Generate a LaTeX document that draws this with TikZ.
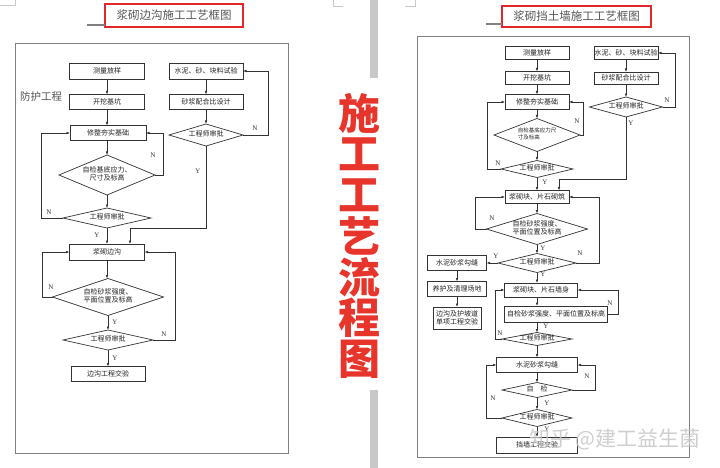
\documentclass[tikz,border=0pt]{standalone}
\usepackage{fontspec}
\setmainfont{Noto Sans CJK SC}
\newfontfamily\lat{Liberation Serif}
\newfontfamily\cjkb{Noto Sans CJK SC}
\usetikzlibrary{shapes.geometric,arrows.meta}
\definecolor{ln}{HTML}{333333}
\definecolor{txt}{HTML}{222222}
\definecolor{ttl}{HTML}{555555}
\definecolor{frm}{HTML}{808080}
\definecolor{redbox}{HTML}{E0282A}
\definecolor{bigred}{HTML}{E8352B}
\definecolor{bar}{HTML}{C8C8C8}
\newcommand{\dt}[1]{\makebox[0pt]{\begin{tabular}{@{}c@{}}#1\end{tabular}}}
\newcommand{\dtl}[1]{\makebox[0pt]{\begin{tabular}{@{}l@{}}#1\end{tabular}}}
\begin{document}
\begin{tikzpicture}[x=1pt,y=-1pt,
  every node/.style={inner sep=0pt,outer sep=0pt},
  bx/.style 2 args={draw=ln,line width=0.7pt,minimum width=#1pt,minimum height=#2pt,
    font=\fontsize{7}{8.5}\selectfont,text=txt,align=center},
  dm/.style 2 args={diamond,draw=ln,line width=0.7pt,minimum width=#1pt,minimum height=#2pt,
    font=\fontsize{7}{8.5}\selectfont,text=txt},
  arr/.style={draw=ln,line width=0.6pt,-{Latex[length=3.5pt,width=2.6pt]}},
  lab/.style={font=\lat\fontsize{7}{7}\selectfont,text=ln},
  ttlbox/.style={draw=redbox,line width=1.6pt,font=\fontsize{11.5}{12}\selectfont,text=ttl},
  frame/.style={draw=frm,line width=0.8pt}]
\fill[white] (0,0) rectangle (720,468);
\useasboundingbox (0,0) rectangle (720,468);

% page corner marks and gray bars
\draw[bar,line width=0.6pt] (0,5) -- (15,5) -- (15,0);
\draw[bar,line width=0.6pt] (333,0) -- (333,6) -- (343,6);
\draw[bar,line width=0.6pt] (405,6) -- (415,6) -- (415,0);
\fill[bar] (370,0) rectangle (378,78);
\fill[bar] (370,390) rectangle (378,468);

% big red vertical title
\foreach \i/\c in {0/施,1/工,2/工,3/艺,4/流,5/程,6/图}
  \node[font=\cjkb\bfseries\fontsize{42}{42}\selectfont,text=bigred] (big\i) at (359,113+41*\i) {\c};

% ===== Left panel =====
\node[ttlbox,minimum width=138pt,minimum height=23pt] (t1) at (174,15.5) {浆砌边沟施工工艺框图};
\draw[frm,line width=1.2pt] ([yshift=2pt]t1.south west) -- ++(-18,0);
\draw[frame] (15,43) rectangle (288,453);
\node[font=\fontsize{10.5}{11}\selectfont,text=ttl] (fh) at (41,97) {防护工程};

\node[bx={75}{16}] (L1) at (107,71) {测量放样};
\node[bx={75}{15}] (L2) at (107,102) {开挖基坑};
\node[bx={76}{15}] (L3) at (108,133) {修整夯实基础};
\node[dm={96}{40}] (LD1) at (107,175) {\dt{自检基底应力、\\尺寸及标高}};
\node[dm={88}{20}] (LD2) at (107,218) {\dt{工程师审批}};
\node[bx={75}{16}] (L4) at (107,252) {浆砌边沟};
\node[dm={111}{37}] (LD3) at (108,297) {\dt{自检砂浆强度、\\平面位置及标高}};
\node[dm={90}{20}] (LD4) at (108,340) {\dt{工程师审批}};
\node[bx={74}{15}] (L5) at (108,374) {边沟工程交验};
\node[bx={74}{16}] (R1) at (206,71) {水泥、砂、块料试验};
\node[bx={74}{15}] (R2) at (206,102) {砂浆配合比设计};
\node[dm={74}{22}] (RD1) at (206,135) {\dt{工程师审批}};

\draw[arr] (L1) -- (L2);
\draw[arr] (L2.south) -- (L2.south |- L3.north);
\draw[arr] (LD1.north |- L3.south) -- (LD1.north);
\draw[arr] (LD1.east) -- ++(8,0) |- (L3.east);
\draw[arr] (LD1) -- (LD2);
\draw[arr] (LD2.west) -- ++(-22,0) |- (L3.west);
\draw[arr] (LD2) -- (L4);
\draw[arr] (R1) -- (R2);
\draw[arr] (R2) -- (RD1);
\draw[arr] (RD1.east) -- ++(25,0) |- (R1.east);
\coordinate (LJ) at (130,228);
\draw[arr] (RD1.south) |- (LJ) -- (LJ |- L4.north);
\draw[arr] (L4.south) -- (L4.south |- LD3.north);
\draw[arr] (LD3.west) -- ++(-10,0) |- (L4.west);
\draw[arr] (LD3) -- (LD4);
\draw[arr] (LD4.east) -- ++(22,0) |- (L4.east);
\draw[arr] (LD4) -- (L5);

\node[lab] (ln1) at (153,155) {N};
\node[lab] (ln2) at (49,212) {N};
\node[lab] (ly1) at (97,235) {Y};
\node[lab] (ly2) at (198,171) {Y};
\node[lab] (ln3) at (255,128) {N};
\node[lab] (ln4) at (51,287) {N};
\node[lab] (ly3) at (115,322) {Y};
\node[lab] (ln5) at (164,334) {N};
\node[lab] (ly4) at (115,358) {Y};

% ===== Right panel =====
\node[ttlbox,minimum width=149pt,minimum height=21pt] (t2) at (576.5,16.5) {浆砌挡土墙施工工艺框图};
\draw[frm,line width=1.2pt] ([yshift=3pt]t2.south west) -- ++(-16,0);
\draw[frame] (417,36) rectangle (689,457);

\node[bx={64}{13}] (A1) at (537,53) {测量放样};
\node[bx={64}{13}] (A2) at (537,78) {开挖基坑};
\node[bx={64}{15}] (A3) at (537,102) {修整夯实基础};
\node[dm={86}{33},font=\fontsize{5.5}{7}\selectfont] (AD1) at (537,135) {\dtl{自检基底应力尺\\寸及标高}};
\node[dm={72}{17}] (AD2) at (537,169) {\dt{工程师审批}};
\node[bx={64}{13}] (B1) at (626,53) {水泥、砂、块料试验};
\node[bx={64}{12}] (B2) at (626,78) {砂浆配合比设计};
\node[dm={73}{20}] (BD1) at (626,107) {\dt{工程师审批}};
\node[bx={64}{13}] (A4) at (537,197) {浆砌块、片石砌筑};
\node[dm={101}{31}] (AD3) at (537,229) {\dt{自检砂浆强度、\\平面位置及标高}};
\node[dm={78}{19}] (AD4) at (537,263) {\dt{工程师审批}};
\node[bx={59}{15}] (C1) at (457,263) {水泥砂浆勾缝};
\node[bx={59}{15}] (C2) at (457,289) {养护及清理场地};
\node[bx={48}{22}] (C3) at (457,318) {边沟及护坡道\\单项工程交验};
\node[bx={73}{14}] (A5) at (541,290) {浆砌块、片石墙身};
\node[bx={103}{16}] (A6) at (556,314) {自检砂浆强度、平面位置及标高};
\node[dm={70}{13}] (AD5) at (537,339) {\dt{工程师审批}};
\node[bx={81}{15}] (A7) at (537,365) {水泥砂浆勾缝};
\node[dm={70}{15}] (AD6) at (537,390) {\dt{自\quad 检}};
\node[dm={70}{17}] (AD7) at (537,418) {\dt{工程师审批}};
\node[bx={81}{16}] (A8) at (537,445) {挡墙工程交验};

\draw[arr] (A1) -- (A2);
\draw[arr] (A2) -- (A3);
\draw[arr] (A3) -- (AD1);
\draw[arr] (AD1) -- (AD2);
\draw[arr] (AD1.east) -- ++(3,0) |- (A3.east);
\draw[arr] (AD2.west) -- ++(-14,0) |- (A3.west);
\draw[arr] (B1) -- (B2);
\draw[arr] (B2) -- (BD1);
\draw[arr] (BD1.east) -- ++(13,0) |- (B1.east);
\coordinate (RJ) at (559,179);
\draw[arr] (BD1.south) |- (RJ) -- (RJ |- A4.north);
\draw[arr] (AD2) -- (A4);
\draw[arr] (A4) -- (AD3);
\draw[arr] (AD3.west) -- ++(-11,0) |- (A4.west);
\draw[arr] (AD3) -- (AD4);
\draw[arr] (AD4.east) -- ++(23,0) |- (A4.east);
\draw[arr] (AD4.west) -- (C1.east);
\draw[arr] (C1) -- (C2);
\draw[arr] (C2) -- (C3);
\draw[arr] (AD4.south) -- (AD4.south |- A5.north);
\draw[arr] (AD4.south |- A5.south) -- (AD4.south |- A6.north);
\draw[arr] (A6.east) -- ++(11,0) |- (A5.east);
\draw[arr] (AD5.north |- A6.south) -- (AD5.north);
\draw[arr] (AD5.west) -- ++(-7,0) |- (A5.west);
\draw[arr] (AD5) -- (A7);
\draw[arr] (A7) -- (AD6);
\draw[arr] (AD6.east) -- ++(23,0) |- (A7.east);
\draw[arr] (AD6) -- (AD7);
\draw[arr] (AD7.west) -- ++(-16,0) |- (A7.west);
\draw[arr] (AD7) -- (A8);

\node[lab] (rn1) at (577,121) {N};
\node[lab] (rn2) at (498,163) {N};
\node[lab] (rn3) at (667,100) {N};
\node[lab] (ry1) at (631,123) {Y};
\node[lab] (ry2) at (545,182) {Y};
\node[lab] (rn4) at (492,218) {N};
\node[lab] (ry3) at (543,248) {Y};
\node[lab] (rn5) at (580,253) {N};
\node[lab] (ry4) at (496,256) {Y};
\node[lab] (ry5) at (543,274) {Y};
\node[lab] (rn6) at (610,303) {N};
\node[lab] (ry6) at (546,326) {Y};
\node[lab] (rn7) at (500,333) {N};
\node[lab] (rn8) at (587,376) {N};
\node[lab] (ry7) at (547,403) {Y};
\node[lab] (rn9) at (493,398) {N};
\node[lab] (ry8) at (547,429) {Y};

% watermark
\node[font=\fontsize{21}{21}\selectfont,text=black!22,opacity=0.85] (wm) at (615,439) {知乎 @建工益生菌};
\end{tikzpicture}
\end{document}
